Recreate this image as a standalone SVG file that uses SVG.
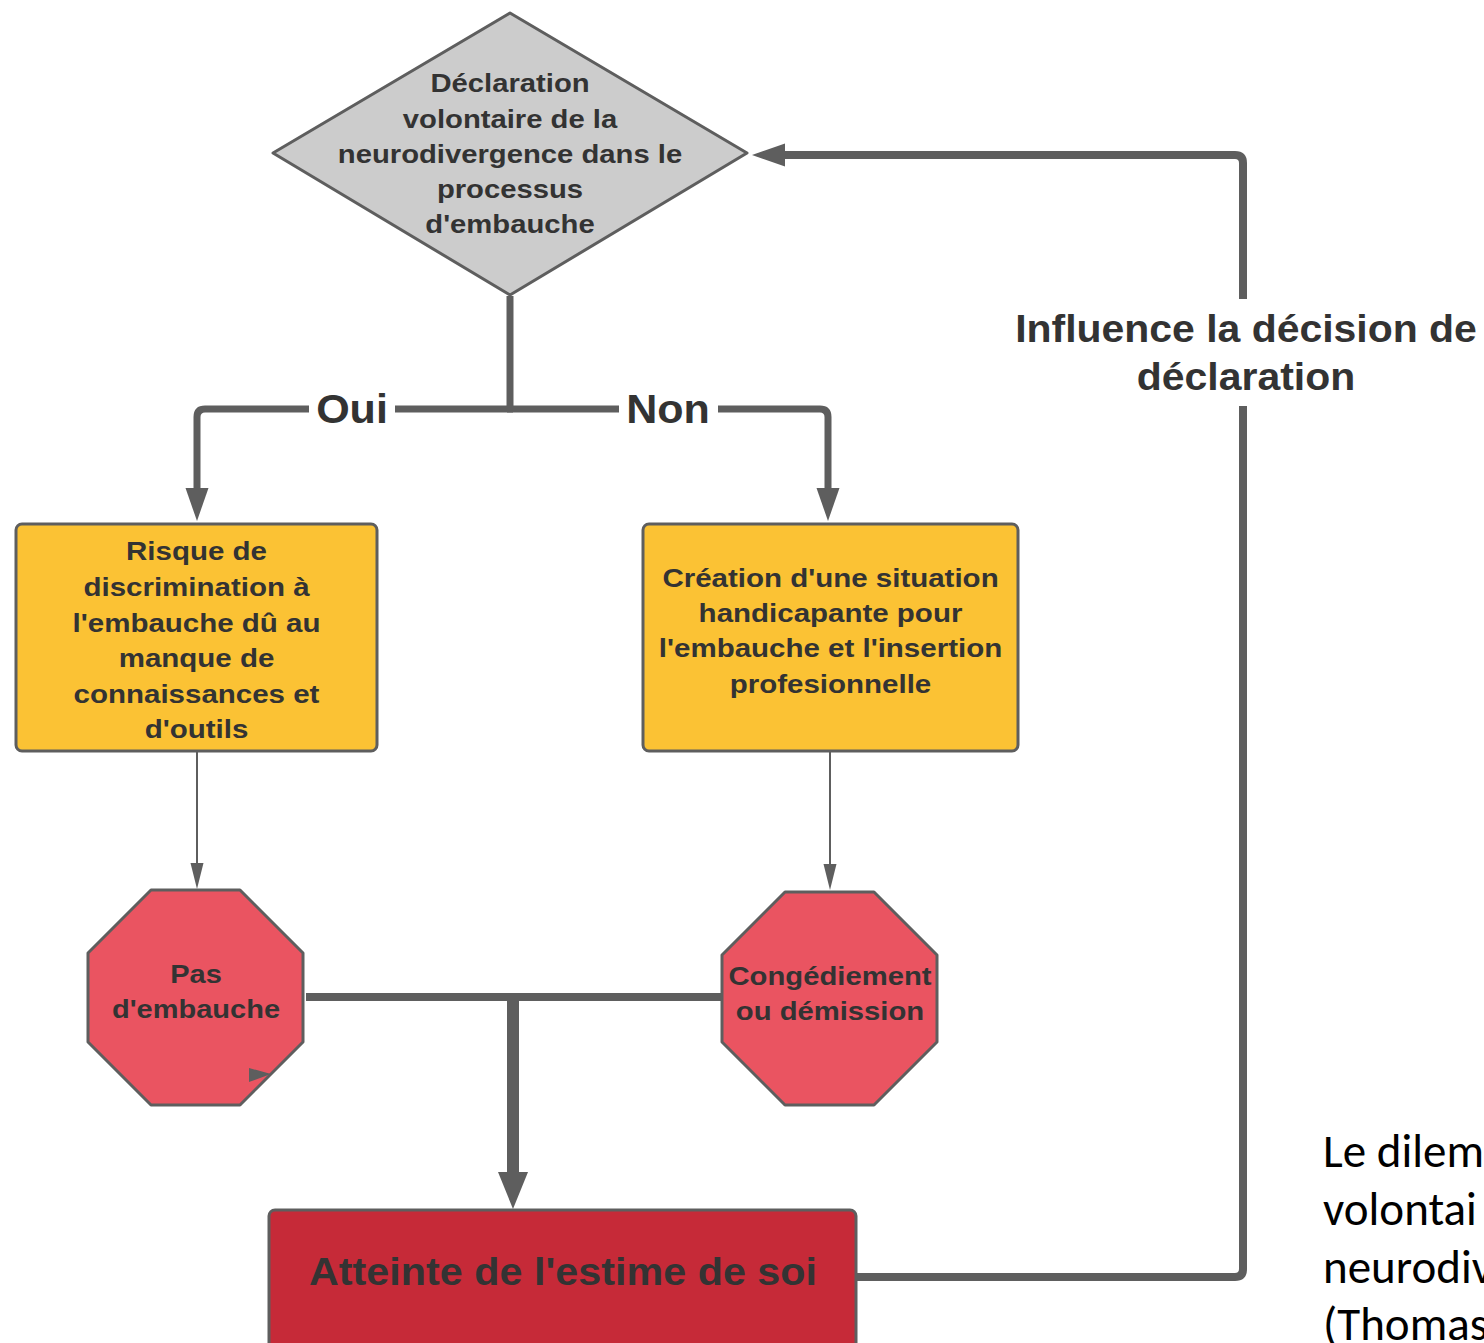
<svg xmlns="http://www.w3.org/2000/svg" width="1484" height="1343" viewBox="0 0 1484 1343">
<style>
.t{font-family:"Liberation Sans",Arial,sans-serif;font-weight:bold;fill:#333333;text-anchor:middle}
.n25{font-size:25px}
.shape{stroke:#5e5e5e;stroke-width:3;stroke-linejoin:round}
.conn{fill:none;stroke:#5e5e5e;stroke-linejoin:round}
.lbl{font-family:"Liberation Sans",Arial,sans-serif;font-weight:bold;fill:#333333;text-anchor:middle}
.note{font-family:Carlito,"Liberation Sans",Arial,sans-serif;font-size:47px;fill:#000000}
</style>
<defs>
<marker id="arrowL" markerUnits="userSpaceOnUse" markerWidth="40" markerHeight="30" refX="0" refY="0" orient="auto" viewBox="0 -15 40 30" overflow="visible">
<path d="M0,-11.5 L33,0 L0,11.5 Z" fill="#5e5e5e"/>
</marker>
<marker id="arrowXL" markerUnits="userSpaceOnUse" markerWidth="44" markerHeight="34" refX="0" refY="0" orient="auto" viewBox="0 -17 44 34" overflow="visible">
<path d="M0,-15 L37,0 L0,15 Z" fill="#5e5e5e"/>
</marker>
<marker id="arrowS" markerUnits="userSpaceOnUse" markerWidth="30" markerHeight="16" refX="0" refY="0" orient="auto" viewBox="0 -8 30 16" overflow="visible">
<path d="M0,-6.5 L26,0 L0,6.5 Z" fill="#5e5e5e"/>
</marker>
</defs>
<rect width="1484" height="1343" fill="#ffffff"/>

<g id="connectors">
<path class="conn" stroke-width="7" d="M510,296 V409"/>
<path class="conn" stroke-width="7" d="M513,409 H205 Q197,409 197,417 V488" marker-end="url(#arrowL)"/>
<path class="conn" stroke-width="7" d="M507,409 H820 Q828,409 828,417 V488" marker-end="url(#arrowL)"/>
<path class="conn" stroke-width="2" d="M197,752 V863" marker-end="url(#arrowS)"/>
<path class="conn" stroke-width="2" d="M830,752 V864" marker-end="url(#arrowS)"/>
<path class="conn" stroke-width="8" d="M306,997 H517"/>
<path class="conn" stroke-width="8" d="M722,997 H509"/>
<path class="conn" stroke-width="12" d="M513,993 V1172" marker-end="url(#arrowXL)"/>
<path class="conn" stroke-width="8" d="M856,1277 H1235 Q1243,1277 1243,1269 V163 Q1243,155 1235,155 H785" marker-end="url(#arrowL)"/>
</g>

<g id="label-oui">
<rect x="309" y="388" width="86" height="42" fill="#ffffff"/>
<text class="lbl" font-size="41" transform="translate(352,0) scale(1.05,1)" x="0" y="423">Oui</text>
</g>
<g id="label-non">
<rect x="619" y="388" width="99" height="42" fill="#ffffff"/>
<text class="lbl" font-size="41" transform="translate(668,0) scale(1.05,1)" x="0" y="423">Non</text>
</g>
<g id="label-influence">
<rect x="1005" y="299" width="479" height="107" fill="#ffffff"/>
<g transform="translate(1246,0) scale(1.05,1)">
<text class="lbl" font-size="39" x="0" y="342">Influence la décision de</text>
<text class="lbl" font-size="39" x="0" y="390">déclaration</text>
</g>
</g>

<g id="node-declaration">
<polygon class="shape" fill="#cccccc" points="510,13 747,153 510,295 273,153"/>
<g transform="translate(510,0) scale(1.17,1)">
<text class="t n25" x="0" y="92">Déclaration</text>
<text class="t n25" x="0" y="128">volontaire de la</text>
<text class="t n25" x="0" y="163">neurodivergence dans le</text>
<text class="t n25" x="0" y="198">processus</text>
<text class="t n25" x="0" y="233">d'embauche</text>
</g>
</g>

<g id="node-risque">
<rect class="shape" fill="#fbc234" x="16" y="524" width="361" height="227" rx="6"/>
<g transform="translate(196.5,0) scale(1.18,1)">
<text class="t n25" x="0" y="560">Risque de</text>
<text class="t n25" x="0" y="596">discrimination à</text>
<text class="t n25" x="0" y="632">l'embauche dû au</text>
<text class="t n25" x="0" y="667">manque de</text>
<text class="t n25" x="0" y="703">connaissances et</text>
<text class="t n25" x="0" y="738">d'outils</text>
</g>
</g>

<g id="node-creation">
<rect class="shape" fill="#fbc234" x="643" y="524" width="375" height="227" rx="6"/>
<g transform="translate(830.5,0) scale(1.18,1)">
<text class="t n25" x="0" y="587">Création d'une situation</text>
<text class="t n25" x="0" y="622">handicapante pour</text>
<text class="t n25" x="0" y="657">l'embauche et l'insertion</text>
<text class="t n25" x="0" y="693">profesionnelle</text>
</g>
</g>

<g id="node-pas-embauche">
<polygon class="shape" fill="#ea5461" points="151,890 240,890 303,953 303,1042 240,1105 151,1105 88,1042 88,953"/>
<polygon fill="#5e5e5e" points="249,1068 249,1082 271,1074"/>
<g transform="translate(196,0) scale(1.16,1)">
<text class="t n25" x="0" y="983">Pas</text>
<text class="t n25" x="0" y="1018">d'embauche</text>
</g>
</g>

<g id="node-congediement">
<polygon class="shape" fill="#ea5461" points="785,892 874,892 937,955 937,1042 874,1105 785,1105 722,1042 722,955"/>
<g transform="translate(830,0) scale(1.17,1)">
<text class="t n25" x="0" y="985">Congédiement</text>
<text class="t n25" x="0" y="1020">ou démission</text>
</g>
</g>

<g id="node-atteinte">
<rect class="shape" fill="#c62a38" x="269" y="1210" width="587" height="160" rx="6"/>
<text class="t" font-size="39" transform="translate(563,0) scale(1.06,1)" x="0" y="1285">Atteinte de l'estime de soi</text>
</g>

<g id="note">
<text class="note" x="1323" y="1167">Le dilem</text>
<text class="note" x="1323" y="1225">volontai</text>
<text class="note" x="1323" y="1283">neurodiv</text>
<text class="note" x="1323" y="1340">(Thomas</text>
</g>
</svg>
